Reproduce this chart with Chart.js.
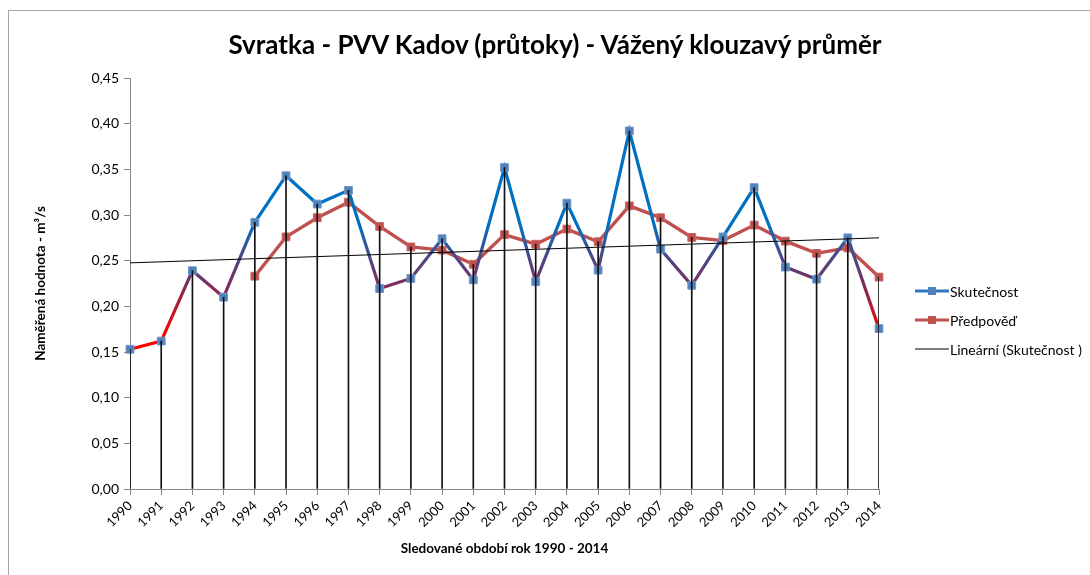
<!DOCTYPE html>
<html>
<head>
<meta charset="utf-8">
<script src="https://cdn.jsdelivr.net/npm/chart.js@4.4.0/dist/chart.umd.min.js"></script>
<style>
  body { margin: 0; background: #fff; font-family: Lato, sans-serif; }
  #wrap { position: relative; width: 1090px; height: 575px; overflow: hidden; }
  #frame { position: absolute; left: 8px; top: 10px; width: 1200px; height: 700px; border-left: 1px solid #a6a6a6; border-top: 1px solid #a6a6a6; }
  #title { position: absolute; left: 0; top: 27px; width: 1110px; text-align: center; font: bold 26px Lato, sans-serif; line-height: 34px; color: #000; }
  #graf { position: absolute; left: 0; top: 0; }
  .leg { position: absolute; left: 915px; height: 20px; display: flex; align-items: center; font-size: 14px; color: #000; white-space: nowrap; }
  .glyph { position: relative; width: 34px; height: 20px; margin-right: 1px; }
  .glyph .ln { position: absolute; left: 0; right: 0; top: 50%; transform: translateY(-50%); }
  .glyph .mk { position: absolute; left: 13px; top: 6px; width: 8px; height: 8px; }
</style>
</head>
<body>
<div id="wrap">
  <div id="frame"></div>
  <canvas id="graf" width="1090" height="575"></canvas>
  <div id="title">Svratka - PVV Kadov (průtoky) - Vážený klouzavý průměr</div>
  <div class="leg" style="top:281px">
    <div class="glyph"><div class="ln" style="height:3px;background:#2e75c2"></div><div class="mk" style="background:#4f81bd"></div></div>Skutečnost
  </div>
  <div class="leg" style="top:310px">
    <div class="glyph"><div class="ln" style="height:3px;background:#c0504d"></div><div class="mk" style="background:#c0504d"></div></div>Předpověď
  </div>
  <div class="leg" style="top:339px">
    <div class="glyph"><div class="ln" style="height:1px;background:#000"></div></div>Lineární (Skutečnost )
  </div>
</div>
<script>
// --- data ---
const roky = ['1990','1991','1992','1993','1994','1995','1996','1997','1998','1999','2000','2001','2002',
              '2003','2004','2005','2006','2007','2008','2009','2010','2011','2012','2013','2014'];
const skutecnost = [0.153, 0.162, 0.239, 0.210, 0.292, 0.343, 0.312, 0.327, 0.2195, 0.2305, 0.274, 0.229, 0.352,
                    0.227, 0.313, 0.2396, 0.392, 0.2626, 0.223, 0.276, 0.330, 0.243, 0.2297, 0.275, 0.1756];
const predpoved = [null, null, null, null, 0.233, 0.276, 0.297, 0.314, 0.2875, 0.265, 0.2615, 0.246, 0.2785,
                   0.268, 0.2846, 0.2707, 0.310, 0.297, 0.2755, 0.272, 0.289, 0.2714, 0.258, 0.264, 0.232];
const trendZacatek = 0.2476;   // Lineární (Skutečnost) v roce 1990
const trendKonec = 0.275;      // ... a v roce 2014
const yTickLabels = ['0,00','0,05','0,10','0,15','0,20','0,25','0,30','0,35','0,40','0,45'];

// trend: jen krajní body, mezi nimi přímka
const trend = roky.map((r, i) => i === 0 ? trendZacatek : (i === roky.length - 1 ? trendKonec : null));
// svislé spojnice od nejvyššího bodu k ose
const spojnice = skutecnost.map((v, i) => Math.max(v, predpoved[i] ?? 0));

// barevný přechod čáry Skutečnost podle výšky (červená dole, modrá nahoře)
const prechod = [[0.17, '#ff0000'], [0.225, '#7a2e60'], [0.255, '#4a4a88'], [0.29, '#0070c0']];
const modraCervena = (ctx) => {
    const chart = ctx.chart;
    if (!chart.chartArea) return '#0070c0';
    const y = chart.scales.y;
    const lo = prechod[0][0], hi = prechod[prechod.length - 1][0];
    const g = chart.ctx.createLinearGradient(0, y.getPixelForValue(lo), 0, y.getPixelForValue(hi));
    prechod.forEach(([v, c]) => g.addColorStop((v - lo) / (hi - lo), c));
    return g;
};

const pismo = (size, weight) => ({ family: 'Lato', size: size, weight: weight || 'normal' });

new Chart(document.getElementById('graf'), {
    type: 'line',
    data: {
        labels: roky,
        datasets: [
            { type: 'bar', data: spojnice, backgroundColor: '#111', barThickness: 1, grouped: false, order: 0 },
            { label: 'Lineární (Skutečnost )', data: trend, borderColor: '#000', borderWidth: 1, pointRadius: 0, spanGaps: true, order: 1 },
            { label: 'Skutečnost', data: skutecnost, borderColor: modraCervena, borderWidth: 3.2,
              pointStyle: 'rect', pointRadius: 5.5, pointBorderWidth: 1, pointBackgroundColor: '#4f81bd', pointBorderColor: '#6f97c9', order: 2 },
            { label: 'Předpověď', data: predpoved, borderColor: '#c0504d', borderWidth: 3.4,
              pointStyle: 'rect', pointRadius: 5.5, pointBorderWidth: 1, pointBackgroundColor: '#c0504d', pointBorderColor: '#c96663', order: 3 }
        ]
    },
    options: {
        responsive: false,
        animation: false,
        layout: { padding: { left: 29, right: 211, top: 78, bottom: 14 } },
        plugins: { legend: { display: false }, tooltip: { enabled: false } },
        scales: {
            x: {
                type: 'category', offset: false,
                grid: { drawOnChartArea: false, offset: false, tickLength: 6, color: '#868686' },
                border: { color: '#868686' },
                ticks: { minRotation: 45, maxRotation: 45, autoSkip: false, color: '#000', font: pismo(13), padding: 3 },
                title: { display: true, text: 'Sledované období rok 1990 - 2014', color: '#000', font: pismo(13.5, 'bold') },
                afterFit: (s) => { s.height = 72; }
            },
            y: {
                min: 0, max: 0.45,
                grid: { drawOnChartArea: false, tickLength: 6, color: '#868686' },
                border: { color: '#868686' },
                ticks: { stepSize: 0.05, color: '#000', font: pismo(14), padding: 5, callback: (v, i) => yTickLabels[i] },
                title: { display: true, text: 'Naměřená hodnota - m³/s', color: '#000', font: pismo(13.5, 'bold') },
                afterFit: (s) => { s.width = 101; }
            }
        }
    }
});
</script>
</body>
</html>
